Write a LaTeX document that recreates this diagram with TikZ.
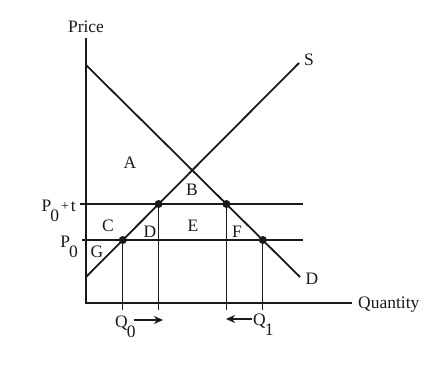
\documentclass[tikz,border=0pt]{standalone}
\usepackage{fontspec}
\setmainfont{Liberation Serif}
\usetikzlibrary{arrows.meta}
\definecolor{ink}{HTML}{1A1A1A}
\newcommand{\lowsub}[1]{\raisebox{-10pt}{#1}}
\begin{document}
\begin{tikzpicture}[x=1pt,y=-1pt,
  font=\fontsize{17.5}{20}\selectfont, color=ink,
  lbl/.style={inner sep=0pt, text=ink},
  axisline/.style={line width=1.9pt, draw=ink},
  curveline/.style={line width=1.8pt, draw=ink},
  taxline/.style={line width=2.8pt, draw=ink},
  baseline/.style={line width=1.9pt, draw=ink},
  guide/.style={line width=1pt, draw=ink},
  dotnode/.style={circle, fill=ink, inner sep=0pt, minimum size=8pt},
  arr/.style={line width=1.8pt, draw=ink, -{Stealth[length=9pt,width=8pt]}}]
\useasboundingbox (0,0) rectangle (438,377);
\fill[white] (0,0) rectangle (438,377);
% axes
\coordinate (top) at (86,38);
\coordinate (origin) at (86,303);
\coordinate (xend) at (352,303);
\draw[axisline] (top) -- (origin) -- (xend);
% demand and supply
\coordinate (d0) at (86,65);
\coordinate (d1) at (300,277);
\coordinate (s0) at (86,277);
\coordinate (s1) at (299,63);
\draw[curveline] (d0) -- (d1);
\draw[curveline] (s0) -- (s1);
% price lines
\coordinate (pt0) at (80,204);
\coordinate (pt1) at (303,204);
\coordinate (p0) at (82,240);
\coordinate (p1) at (303,240);
\draw[taxline] (pt0) -- (pt1);
\draw[baseline] (p0) -- (p1);
% intersection dots
\node[dotnode] (sa) at (122.8,240) {};
\node[dotnode] (sb) at (158.6,204) {};
\node[dotnode] (da) at (226.4,204) {};
\node[dotnode] (db) at (262.8,240) {};
\coordinate (ta) at (122.8,310);
\coordinate (tb) at (158.6,310);
\coordinate (tc) at (226.4,310);
\coordinate (td) at (262.8,310);
\draw[guide] (sa.center) -- (ta);
\draw[guide] (sb.center) -- (tb);
\draw[guide] (da.center) -- (tc);
\draw[guide] (db.center) -- (td);
% axis labels
\node[lbl, anchor=base] (price) at (86,33) {Price};
\node[lbl, anchor=base west] (qty) at (358,308) {Quantity};
\node[lbl, anchor=base east] (ptlbl) at (76,211) {P\kern-1pt\lowsub{0}\kern2pt\raisebox{1pt}{\fontsize{14}{16}\selectfont+}\kern2pt t};
\node[lbl, anchor=base east] (p0lbl) at (78,247) {P\kern-1pt\lowsub{0}};
% quantity labels and arrows
\node[lbl, anchor=base west] (q0) at (115,327) {Q\kern-1pt\lowsub{0}};
\coordinate (q0a) at (134,320);
\coordinate (q0b) at (163,320);
\draw[arr] (q0a) -- (q0b);
\node[lbl, anchor=base west] (q1) at (253,325) {Q\kern-1pt\lowsub{1}};
\coordinate (q1a) at (252,319);
\coordinate (q1b) at (226,319);
\draw[arr] (q1a) -- (q1b);
% area labels
\node[lbl] (A) at (130,163) {A};
\node[lbl] (B) at (192,190) {B};
\node[lbl] (C) at (108,226) {C};
\node[lbl] (D) at (150,232) {D};
\node[lbl] (E) at (193,226) {E};
\node[lbl] (F) at (237,232) {F};
\node[lbl] (G) at (97,252) {G};
\node[lbl] (S) at (309,60) {S};
\node[lbl] (Dl) at (312,279) {D};
\end{tikzpicture}
\end{document}
